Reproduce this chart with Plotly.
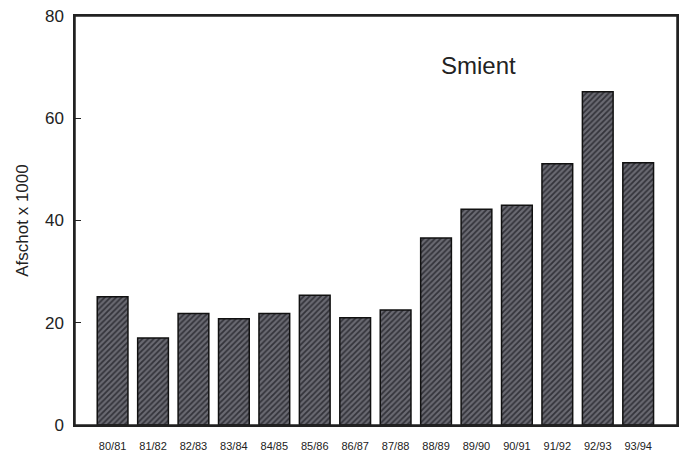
import plotly.graph_objects as go

seasons = ["80/81", "81/82", "82/83", "83/84", "84/85", "85/86", "86/87",
           "87/88", "88/89", "89/90", "90/91", "91/92", "92/93", "93/94"]
afschot = [25.1, 17.0, 21.8, 20.8, 21.8, 25.4, 21.0,
           22.5, 36.6, 42.2, 43.0, 51.1, 65.2, 51.3]
y_ticks = [0, 20, 40, 60, 80]
title_text = "Smient"
y_title = "Afschot x 1000"

fig = go.Figure()
fig.add_trace(go.Bar(
    x=list(range(len(seasons))),
    y=afschot,
    width=0.76,
    marker=dict(
        color="#5a5a62",
        line=dict(color="#111111", width=1.5),
        pattern=dict(shape="/", fgcolor="#33333a", bgcolor="#6a6a72",
                     size=4, solidity=0.45, fillmode="replace"),
    ),
    showlegend=False,
))

fig.update_layout(
    width=685, height=457,
    margin=dict(l=75, r=8, t=16, b=32),
    paper_bgcolor="white", plot_bgcolor="white",
    font=dict(family="Liberation Sans, Arial, sans-serif", color="#222222"),
    annotations=[dict(text=title_text, x=0.67, y=0.88, xref="paper", yref="paper",
                      showarrow=False, font=dict(size=24, color="#222222"),
                      xanchor="center", yanchor="middle")],
    shapes=[dict(type="rect", xref="paper", yref="paper", x0=0, x1=1, y0=0, y1=1,
                 line=dict(color="#222222", width=1.5), layer="above")],
)
fig.update_xaxes(
    range=[-0.93, 13.96],
    tickmode="array", tickvals=list(range(len(seasons))), ticktext=seasons,
    tickfont=dict(size=11), ticks="", showgrid=False, zeroline=False,
    showline=True, linecolor="#222222", linewidth=1.5, mirror=True,
    ticklabelstandoff=10, automargin=False,
)
fig.update_yaxes(
    range=[0, 80], tickvals=y_ticks, ticks="inside", ticklen=6,
    tickcolor="#222222", tickwidth=1.2,
    tickfont=dict(size=17), showgrid=False, zeroline=False,
    showline=True, linecolor="#222222", linewidth=1.5, mirror=True,
    title=dict(text=y_title, font=dict(size=17), standoff=12),
    ticklabelstandoff=6, automargin=False,
)

fig.write_html("out.html", config={"displayModeBar": False},
               post_script="document.body.style.margin='0px';")
